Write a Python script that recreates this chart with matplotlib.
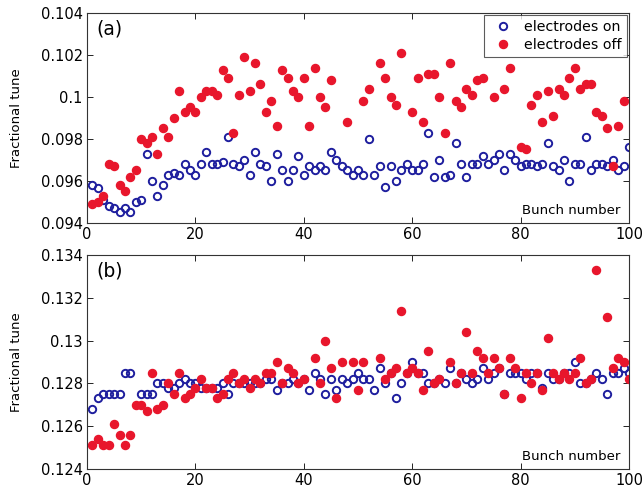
import numpy as np
import matplotlib
matplotlib.use("Agg")
import matplotlib.pyplot as plt
from matplotlib.ticker import FuncFormatter

nan = np.nan
bunch = np.arange(1, 101)

top_on = [0.0958, 0.09565, 0.0951, 0.0948, 0.0947, 0.0945, 0.0947, 0.0945, 0.0950, 0.0951,
          0.0973, 0.0960, 0.0953, 0.0958, 0.0963, 0.0964, 0.0963, 0.0968, 0.0965, 0.0963,
          0.0968, 0.0974, 0.0968, 0.0968, 0.0969, 0.0981, 0.0968, 0.0967, 0.0970, 0.0963,
          0.0974, 0.0968, 0.0967, 0.0960, 0.0973, 0.0965, 0.0960, 0.0965, 0.0972, 0.0963,
          0.0967, 0.0965, 0.0967, 0.0965, 0.0974, 0.0970, 0.0967, 0.0965, 0.0963, 0.0965,
          0.0963, 0.0980, 0.0963, 0.0967, 0.0957, 0.0967, 0.0960, 0.0965, 0.0968, 0.0965,
          0.0965, 0.0968, 0.0983, 0.0962, 0.0970, 0.0962, 0.0963, 0.0978, 0.0968, 0.0962,
          0.0968, 0.0968, 0.0972, 0.0968, 0.0970, 0.0973, 0.0965, 0.0973, 0.0970, 0.0967,
          0.0968, 0.0968, 0.0967, 0.0968, 0.0978, 0.0967, 0.0965, 0.0970, 0.0960, 0.0968,
          0.0968, 0.0981, 0.0965, 0.0968, 0.0968, 0.0967, 0.0970, 0.0965, 0.0967, 0.0976]

top_off = [0.0949, 0.0950, 0.0953, 0.0968, 0.0967, 0.0958, 0.0955, 0.0962, 0.0965, 0.0980,
           0.0978, 0.0981, 0.0973, 0.0985, 0.0981, 0.0990, 0.1003, 0.0993, 0.0995, 0.0993,
           0.1000, 0.1003, 0.1003, 0.1001, 0.1013, 0.1009, 0.0983, 0.1001, 0.1019, 0.1003,
           0.1016, 0.1006, 0.0993, 0.0998, 0.0986, 0.1013, 0.1009, 0.1003, 0.1000, 0.1009,
           0.0986, 0.1014, 0.1000, 0.0995, 0.1008, nan, nan, 0.0988, nan, nan,
           0.0998, 0.1004, nan, 0.1016, 0.1009, 0.1000, 0.0996, 0.1021, nan, 0.0993,
           0.1009, 0.0988, 0.1011, 0.1011, 0.1000, 0.0983, 0.1016, 0.0998, 0.0995, 0.1004,
           0.1001, 0.1008, 0.1009, nan, 0.1000, nan, 0.1004, 0.1014, nan, 0.0976,
           0.0975, 0.0996, 0.1001, 0.0988, 0.1003, 0.0991, 0.1004, 0.1001, 0.1009, 0.1014,
           0.1004, 0.1006, 0.1006, 0.0993, 0.0991, 0.0985, 0.0967, 0.0986, 0.0998, nan]

bot_on = [0.1268, 0.1273, 0.1275, 0.1275, 0.1275, 0.1275, 0.1285, 0.1285, nan, 0.1275,
          0.1275, 0.1275, 0.1280, 0.1280, 0.1278, 0.1278, 0.1280, 0.1282, 0.1280, 0.1280,
          0.1278, 0.1278, 0.1278, 0.1278, 0.1280, 0.1275, 0.1280, 0.1280, 0.1280, 0.1280,
          0.1280, 0.1280, 0.1282, 0.1282, 0.1277, 0.1280, 0.1280, 0.1282, 0.1280, 0.1282,
          0.1277, 0.1285, 0.1282, 0.1275, 0.1282, 0.1277, 0.1282, 0.1280, 0.1282, 0.1285,
          0.1282, 0.1282, 0.1277, 0.1287, 0.1280, 0.1285, 0.1273, 0.1280, 0.1285, 0.1290,
          0.1285, 0.1285, 0.1280, 0.1280, 0.1282, 0.1280, 0.1287, 0.1280, 0.1285, 0.1282,
          0.1280, 0.1282, 0.1287, 0.1282, 0.1285, 0.1287, 0.1275, 0.1285, 0.1285, 0.1285,
          0.1282, 0.1285, 0.1285, 0.1278, 0.1285, 0.1282, 0.1282, 0.1285, 0.1285, 0.1290,
          0.1280, 0.1280, 0.1282, 0.1285, 0.1282, 0.1275, 0.1285, 0.1285, 0.1287, 0.1285]

bot_off = [0.1251, 0.1254, 0.1251, 0.1251, 0.1261, 0.1256, 0.1251, 0.1256, 0.1270, 0.1270,
           0.1267, 0.1285, 0.1268, 0.1270, 0.1280, 0.1275, 0.1285, 0.1273, 0.1275, 0.1278,
           0.1282, 0.1278, 0.1278, 0.1273, 0.1275, 0.1282, 0.1285, 0.1280, 0.1282, 0.1278,
           0.1282, 0.1280, 0.1285, 0.1285, 0.1290, 0.1280, 0.1287, 0.1285, 0.1280, 0.1282,
           nan, 0.1292, 0.1280, 0.1300, 0.1287, 0.1273, 0.1290, nan, 0.1290, 0.1277,
           0.1290, nan, nan, 0.1292, 0.1282, 0.1285, 0.1287, 0.1314, 0.1285, 0.1287,
           0.1285, 0.1277, 0.1295, 0.1280, 0.1282, nan, 0.1290, 0.1280, 0.1285, 0.1304,
           0.1285, 0.1295, 0.1292, 0.1285, 0.1292, 0.1287, 0.1275, 0.1292, 0.1287, 0.1273,
           0.1285, 0.1280, 0.1285, 0.1277, 0.1301, 0.1285, 0.1282, 0.1285, 0.1282, 0.1285,
           0.1292, 0.1280, 0.1282, 0.1333, nan, 0.1311, 0.1287, 0.1292, 0.1290, 0.1282]

top_yticks = [0.094, 0.096, 0.098, 0.1, 0.102, 0.104]
bot_yticks = [0.124, 0.126, 0.128, 0.13, 0.132, 0.134]
xticks = [0, 20, 40, 60, 80, 100]

blue = '#1e1e9e'
red = '#e8162c'

fig = plt.figure(figsize=(6.42, 4.88), dpi=100)
ax1 = fig.add_axes([87/642, 1-223/488, 542/642, 210/488])
ax2 = fig.add_axes([87/642, 1-469/488, 542/642, 214/488])

fmt = FuncFormatter(lambda v, p: '{:g}'.format(round(v, 6)))

for ax, on, off, yt, lab in [(ax1, top_on, top_off, top_yticks, '(a)'),
                              (ax2, bot_on, bot_off, bot_yticks, '(b)')]:
    ax.plot(bunch, on, 'o', ls='none', mfc='none', mec=blue, mew=1.4, ms=5.3, label='electrodes on')
    ax.plot(bunch, off, 'o', ls='none', mfc=red, mec=red, ms=5.8, label='electrodes off')
    ax.set_xlim(0, 100)
    ax.set_ylim(yt[0], yt[-1])
    ax.set_xticks(xticks)
    ax.set_yticks(yt)
    ax.yaxis.set_major_formatter(fmt)
    ax.tick_params(direction='in', top=True, right=True, labelsize=10.5, length=4, width=0.6, pad=3)
    for s in ax.spines.values():
        s.set_linewidth(0.8)
        s.set_color('#333333')
    ax.set_ylabel('Fractional tune', fontsize=9.5)
    ax.yaxis.set_label_coords(-0.118, 0.5)
    ax.text(0.018, 0.97, lab, transform=ax.transAxes, fontsize=13.5, va='top', ha='left')
    ax.text(0.985, 0.03, 'Bunch number', transform=ax.transAxes, fontsize=9.5, va='bottom', ha='right')

leg = ax1.legend(loc='upper right', fontsize=10.2, frameon=True, fancybox=False,
                 handletextpad=0.5, borderpad=0.35, labelspacing=0.25, handlelength=2.0,
                 borderaxespad=0.15)
leg.get_frame().set_edgecolor('#333333')
leg.get_frame().set_linewidth(0.8)

fig.savefig('out.png', dpi=100)
